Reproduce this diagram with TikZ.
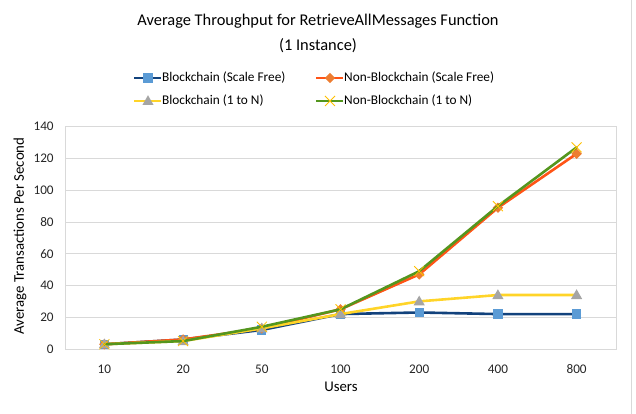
\documentclass[tikz,border=0pt]{standalone}
\usepackage{fontspec}
\setmainfont{Carlito}
\usepackage{xcolor}

\definecolor{bcline}{RGB}{18,66,124}
\definecolor{bcmark}{RGB}{91,155,213}
\definecolor{nbline}{RGB}{255,84,22}
\definecolor{nbmark}{RGB}{237,125,49}
\definecolor{onenline}{RGB}{255,212,40}
\definecolor{onenmark}{RGB}{165,165,165}
\definecolor{nonenline}{RGB}{84,150,30}
\definecolor{nonenmark}{RGB}{255,192,0}
\definecolor{gridgray}{RGB}{217,217,217}

\tikzset{
  series/.style={line width=2.6pt,line join=round,line cap=round},
  keyline/.style={line width=2.6pt},
  ticklabel/.style={font=\fontsize{13.2}{15}\selectfont,text=black!85},
  keytext/.style={font=\fontsize{13.3}{15}\selectfont,anchor=west,inner sep=0pt},
  sqmark/.pic={\fill[bcmark] (-4.6pt,-4.6pt) rectangle (4.6pt,4.6pt);},
  dimark/.pic={\fill[nbmark] (0,5.2pt) -- (5.2pt,0) -- (0,-5.2pt) -- (-5.2pt,0) -- cycle;},
  trimark/.pic={\fill[onenmark] (0,5.8pt) -- (5.6pt,-4pt) -- (-5.6pt,-4pt) -- cycle;},
  xmark/.pic={\draw[nonenmark,line width=0.8pt] (-5pt,-5pt) -- (5pt,5pt) (-5pt,5pt) -- (5pt,-5pt);}
}

\begin{document}
\begin{tikzpicture}[x=1pt,y=1pt]
\useasboundingbox (0,0) rectangle (636,414);
% edge of the chart area
\draw[gridgray,line width=0.8pt] (631,0) -- (631,414);

% title
\node[align=center,font=\fontsize{16.4}{25}\selectfont] (title) at (318,381)
  {Average Throughput for RetrieveAllMessages Function\\(1 Instance)};

% legend
\node[keytext] (lgbc) at (162,336) {Blockchain (Scale Free)};
\node[keytext] (lgnb) at (344,336) {Non-Blockchain (Scale Free)};
\node[keytext] (lgbcn) at (162,313) {Blockchain (1 to N)};
\node[keytext] (lgnbn) at (344,313) {Non-Blockchain (1 to N)};
\draw[keyline,bcline] ([xshift=-28pt]lgbc.west) -- ([xshift=-1pt]lgbc.west);
\pic at ([xshift=-14pt]lgbc.west) {sqmark};
\draw[keyline,nbline] ([xshift=-28pt]lgnb.west) -- ([xshift=-1pt]lgnb.west);
\pic at ([xshift=-14pt]lgnb.west) {dimark};
\draw[keyline,onenline] ([xshift=-28pt]lgbcn.west) -- ([xshift=-1pt]lgbcn.west);
\pic at ([xshift=-14pt]lgbcn.west) {trimark};
\draw[keyline,nonenline] ([xshift=-28pt]lgnbn.west) -- ([xshift=-1pt]lgnbn.west);
\pic at ([xshift=-14pt]lgnbn.west) {xmark};

% plot area: category i, value v
\begin{scope}[shift={(104.4,65)},x=78.7pt,y=1.5875pt]
\foreach \v in {20,40,...,120}
  \draw[gridgray,line width=0.8pt] (-0.5,\v) -- (6.5,\v);
\draw[gridgray,line width=0.8pt] (-0.5,0) rectangle (6.5,140);
\foreach \v in {0,20,...,140}
  \node[ticklabel,anchor=east] (yl\v) at (-0.6,\v) {\v};
\foreach \c [count=\i from 0] in {10,20,50,100,200,400,800}
  \node[ticklabel] (xl\c) at (\i,-12.5) {\c};

% Blockchain (Scale Free)
\draw[series,bcline] (0,3) -- (1,6) -- (2,12) -- (3,22) -- (4,23) -- (5,22) -- (6,22);
\foreach \i/\v in {0/3,1/6,2/12,3/22,4/23,5/22,6/22}
  \pic at (\i,\v) {sqmark};
% Non-Blockchain (Scale Free)
\draw[series,nbline] (0,3) -- (1,6) -- (2,13) -- (3,25) -- (4,47) -- (5,89) -- (6,123);
\foreach \i/\v in {0/3,1/6,2/13,3/25,4/47,5/89,6/123}
  \pic at (\i,\v) {dimark};
% Blockchain (1 to N)
\draw[series,onenline] (0,3) -- (1,5) -- (2,13) -- (3,22) -- (4,30) -- (5,34) -- (6,34);
\foreach \i/\v in {0/3,1/5,2/13,3/22,4/30,5/34,6/34}
  \pic at (\i,\v) {trimark};
% Non-Blockchain (1 to N)
\draw[series,nonenline] (0,3) -- (1,5) -- (2,14) -- (3,25) -- (4,49) -- (5,90) -- (6,127);
\foreach \i/\v in {0/3,1/5,2/14,3/25,4/49,5/90,6/127}
  \pic at (\i,\v) {xmark};
\end{scope}

% axis titles
\node[font=\fontsize{14.8}{17}\selectfont] (xtitle) at (341,27) {Users};
\node[font=\fontsize{14.8}{17}\selectfont,rotate=90] (ytitle) at (20,178) {Average Transactions Per Second};
\end{tikzpicture}
\end{document}
